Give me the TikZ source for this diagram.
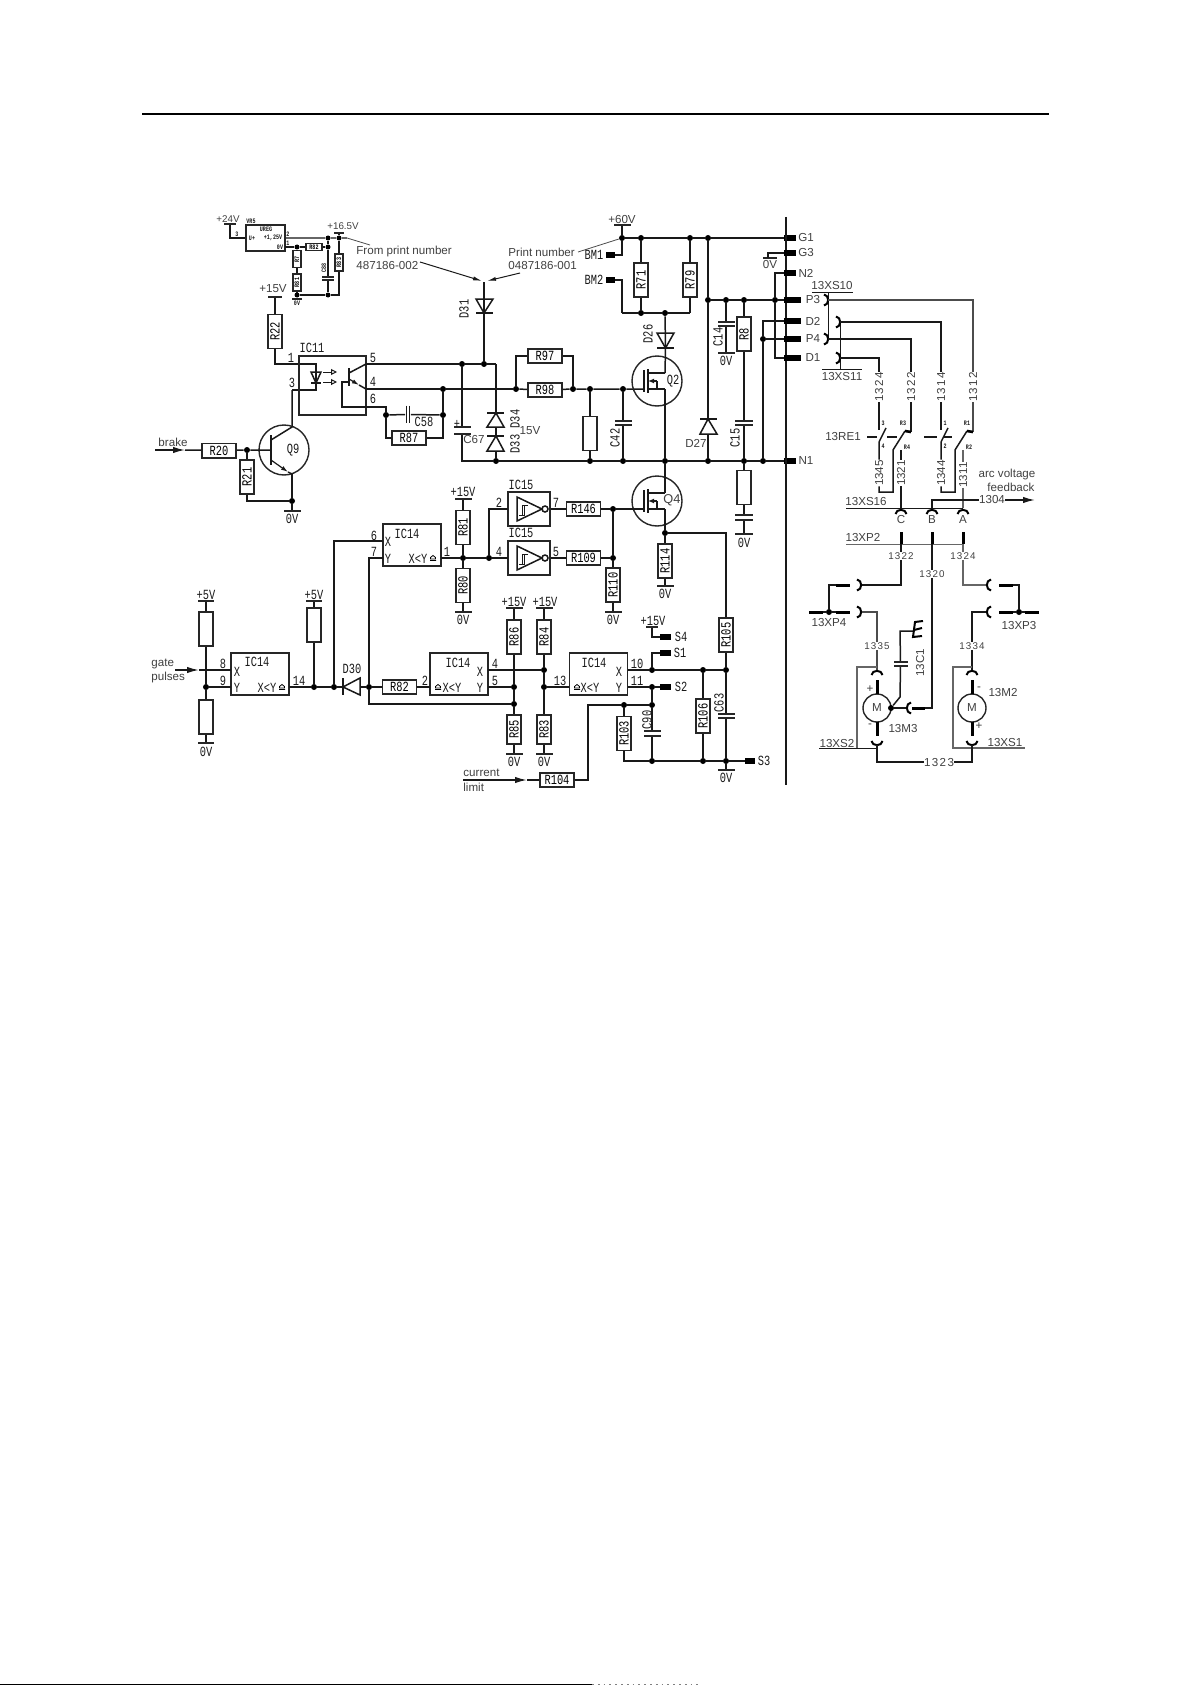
\documentclass[tikz,border=0pt]{standalone}
\usepackage{fontspec}
\usetikzlibrary{arrows.meta}
\setmainfont{Liberation Sans}
\newfontfamily\dinf[FakeStretch=0.74]{Liberation Mono}
\newfontfamily\spcd[LetterSpace=12]{Liberation Sans}
\tikzset{
  sock/.pic={\draw[line width=1pt] (-3,-5.5) .. controls (2.5,-5) and (2.5,5) .. (-3,5.5);},
  ocsym/.pic={\draw[line width=.4pt] (-3,2.5) -- (3,2.5) (-2.5,1) -- (-2.5,-.5) -- (0,-2.5) -- (2.5,-.5) -- (2.5,1) -- cycle;},
  mosfet/.pic={
    \draw (-13,-11) -- (-13,11);
    \draw (-9,-12) -- (-9,12);
    \draw (-9,-8) -- (8,-8);
    \draw (-9,8) -- (8,8);
    \draw (0,8) -- (0,0);
    \draw[-{Latex[length=3pt,width=2.5pt]}] (0,0) -- (-9,0);
  },
  schmitt/.pic={
    \draw (0,-12) -- (25,0) -- (0,12) -- cycle;
    \draw (28,0) circle (3);
    \draw[line width=.5pt] (2,6) -- (7,6) -- (7,-4) (11,-4) -- (5,-4) -- (5,6);
  }
}
\begin{document}
\begin{tikzpicture}
  [x=.5pt,y=-.5pt]
  \tikzstyle{wire_style} = [draw=black!90, line width=.75pt]
  \tikzstyle{thin_style} = [draw=black!70, line width=.4pt]
  \tikzstyle{res_h} = [draw=black!85, line width=.8pt, inner sep=0, minimum width=17pt, minimum height=7.2pt, font=\dinf\fontsize{7}{8}\selectfont]
  \tikzstyle{res_v} = [res_h, rotate=90]
  \tikzstyle{res_s} = [res_h, rotate=90, minimum width=8.4pt, minimum height=4pt, font=\dinf\bfseries\fontsize{3.4}{4}\selectfont]
  \tikzstyle{ic_box} = [draw=black!85, line width=.8pt, inner sep=0, minimum width=29pt, minimum height=21pt]
  \tikzstyle{jdot} = [circle, fill=black, inner sep=0, minimum size=3pt]
  \tikzstyle{txt_d} = [inner sep=0, text=black!90, font=\dinf\fontsize{7}{8}\selectfont]
  \tikzstyle{txt_r} = [txt_d, rotate=90]
  \tikzstyle{txt_t} = [inner sep=0, text=black!90, font=\dinf\bfseries\fontsize{3.4}{4}\selectfont]
  \tikzstyle{txt_a} = [inner sep=0, text=black!75, font=\fontsize{5.8}{7}\selectfont]
  \tikzstyle{txt_l} = [txt_a, anchor=west]
  \tikzstyle{txt_s} = [inner sep=0, text=black!75, font=\spcd\fontsize{5.8}{7}\selectfont]
  \tikzstyle{txt_v} = [txt_s, rotate=90]
  \tikzstyle{bar_node} = [fill=black!85, inner sep=0, minimum width=8.5pt, minimum height=.7pt]
  \tikzstyle{pad_s} = [fill=black, inner sep=0, minimum width=6pt, minimum height=3pt]
  \tikzstyle{pad_l} = [fill=black, inner sep=0, minimum width=8.5pt, minimum height=3pt]
  \tikzstyle{stub_h} = [fill=black, inner sep=0, minimum width=7pt, minimum height=1.5pt]
  \tikzstyle{stub_v} = [fill=black, inner sep=0, minimum width=1.5pt, minimum height=7pt]
  \tikzstyle{arrow_style} = [wire_style, -{Latex[length=6pt,width=3.2pt]}]
  \tikzstyle{note_arrow} = [wire_style, line width=.5pt, -{Latex[length=4.5pt,width=2pt]}]
  \tikzstyle{tiny_arrow} = [wire_style, line width=.6pt, -{Latex[length=3.5pt,width=2.2pt]}]
  \tikzstyle{open_arrow} = [wire_style, line width=.5pt, -{Triangle[open,length=3pt,width=3pt]}]
  \useasboundingbox (0,0) rectangle (1191,1685);
  \coordinate (rule_a) at (142,114);
  \coordinate (rule_b) at (1049,114);
  \coordinate (foot_a) at (0,1684.5);
  \coordinate (foot_b) at (592,1684.5);
  \coordinate (foot_c) at (700,1684.5);
  \draw[line width=1pt] (rule_a) -- (rule_b);
  \draw[line width=.9pt] (foot_a) -- (foot_b);
  \draw[line width=.9pt, black!50, dotted] (foot_b) -- (foot_c);

  % regulator corner
  \node[txt_a, font=\fontsize{4.9}{6}\selectfont] (t24) at (228,219) {+24V};
  \node[bar_node, minimum width=6pt] (b24) at (230,224) {};
  \coordinate (c24) at (230,238);
  \node[draw=black!85, line width=.6pt, inner sep=0, minimum width=19.5pt, minimum height=13pt] (vr5) at (265.5,238) {};
  \node[txt_t] (tvr5) at (251,221) {VR5};
  \node[txt_t] (tureg) at (266,229.5) {UREG};
  \node[txt_t] (tup) at (252,238) {U+};
  \node[txt_t] (tadj) at (273,238) {+1,25V};
  \node[txt_t] (t0vr) at (280,247) {0V};
  \node[txt_t] (tvr3) at (237,234) {3};
  \node[txt_t] (tvr2) at (288,234) {2};
  \node[txt_t] (tvr1) at (288,243) {1};
  \draw[wire_style] (b24) -- (c24) -- (vr5);
  \coordinate (vr5o) at (285,247);
  \node[jdot, minimum size=2.5pt] (ja) at (297,247) {};
  \node[res_h, minimum width=8.2pt, minimum height=3.6pt, font=\dinf\bfseries\fontsize{3.4}{4}\selectfont] (r82a) at (314,247) {R82};
  \node[jdot, minimum size=2.5pt] (jb) at (328,247) {};
  \node[jdot, minimum size=2.5pt] (jc) at (328,238) {};
  \node[jdot, minimum size=2.5pt] (jd) at (339,238) {};
  \node[jdot, minimum size=2.5pt] (je) at (297,295) {};
  \node[jdot, minimum size=2.5pt] (jf) at (328,295) {};
  \coordinate (cg) at (339,295);
  \coordinate (p16) at (347,238);
  \coordinate (p16b) at (370,245);
  \node[res_s] (r7) at (297,259) {R7};
  \node[res_s] (r81a) at (297,282.5) {R81};
  \node[res_s] (r83a) at (339,262.5) {R83};
  \node[txt_a, font=\fontsize{4.9}{6}\selectfont] (t165) at (343,226) {+16.5V};
  \node[bar_node, minimum width=5pt] (b165) at (339,233) {};
  \node[bar_node, minimum width=5pt] (b0a) at (297,299) {};
  \node[txt_t] (t0a) at (297,303.5) {0V};
  \node[txt_t, rotate=90] (tc88) at (324,268) {C88};
  \node[bar_node, minimum width=5.6pt] (c88a) at (328,277) {};
  \node[bar_node, minimum width=5.6pt] (c88b) at (328,280) {};
  \draw[wire_style, line width=.9pt, draw=black!60] (vr5) -- (jc) -- (jd) -- (p16);
  \draw[thin_style] (p16) -- (p16b);
  \draw[wire_style] (vr5o) -- (ja) -- (r82a) -- (jb) -- (jc);
  \draw[wire_style] (ja) -- (r7) -- (r81a) -- (je) -- (b0a);
  \draw[wire_style] (jb) -- (c88a);
  \draw[wire_style] (c88b) -- (jf);
  \draw[wire_style] (je) -- (jf) -- (cg) -- (r83a) -- (jd) -- (b165);

  % optocoupler
  \node[txt_a] (t15a) at (273,289) {+15V};
  \node[bar_node, minimum width=7pt] (b15a) at (275,297) {};
  \node[res_v] (r22) at (275,331.5) {R22};
  \coordinate (c22) at (275,364);
  \coordinate (led_a) at (316,364);
  \coordinate (led_k) at (316,383);
  \coordinate (led_b) at (316,390);
  \coordinate (c3) at (292,390);
  \draw[wire_style] (b15a) -- (r22) -- (c22) -- (led_a) -- (led_k) -- (led_b) -- (c3);
  \node[draw=black!85, line width=.8pt, inner sep=0, minimum width=33.5pt, minimum height=29.5pt] (ic11) at (332.5,385.5) {};
  \node[txt_d] (tic11) at (312,348) {IC11};
  \node[txt_d] (tp1) at (291,358) {1};
  \node[txt_d] (tp3) at (292,383) {3};
  \node[txt_d] (tp5) at (373,358) {5};
  \node[txt_d] (tp4) at (373,382) {4};
  \node[txt_d] (tp6) at (373,399) {6};
  \coordinate (la) at (311,372);
  \coordinate (lb) at (321,372);
  \coordinate (lc) at (311,383);
  \coordinate (ld) at (321,383);
  \draw[wire_style] (la) -- (lb) -- (led_k) -- cycle;
  \draw[wire_style] (lc) -- (ld);
  \coordinate (ra1) at (323,372);
  \coordinate (ra2) at (337,372);
  \coordinate (ra3) at (323,382);
  \coordinate (ra4) at (337,382);
  \draw[open_arrow] (ra1) -- (ra2);
  \draw[open_arrow] (ra3) -- (ra4);
  \coordinate (bb1) at (349,368);
  \coordinate (bb2) at (349,386);
  \coordinate (bc) at (349,373);
  \coordinate (be) at (349,379);
  \coordinate (bb) at (349,382);
  \coordinate (c5) at (366,364);
  \coordinate (c4) at (366,389);
  \coordinate (bem) at (359,385);
  \coordinate (cb1) at (342,382);
  \coordinate (cb2) at (342,407);
  \coordinate (cb3) at (386,407);
  \draw[wire_style] (bb1) -- (bb2);
  \draw[wire_style] (bc) -- (c5);
  \draw[tiny_arrow] (be) -- (bem);
  \draw[wire_style] (bem) -- (c4);
  \node[jdot] (j58a) at (386,415) {};
  \draw[wire_style] (bb) -- (cb1) -- (cb2) -- (cb3) -- (j58a);
  \node[jdot] (j5a) at (462,364) {};
  \node[jdot] (j5b) at (484,364) {};
  \coordinate (c5c) at (496,364);
  \node[jdot] (j4a) at (443,389) {};
  \node[jdot] (j4b) at (516,389) {};
  \node[jdot] (j58b) at (443,415) {};
  \node[draw=none, inner sep=0, minimum width=1pt, minimum height=8.5pt] (c58a) at (406.5,414.5) {};
  \node[draw=none, inner sep=0, minimum width=1pt, minimum height=8.5pt] (c58b) at (409.5,414.5) {};
  \draw[wire_style] (c58a.north) -- (c58a.south);
  \draw[wire_style] (c58b.north) -- (c58b.south);
  \node[txt_d] (tc58) at (424,422) {C58};
  \node[res_h] (r87) at (409,438) {R87};
  \coordinate (c87a) at (386,438);
  \coordinate (c87b) at (443,438);
  \draw[wire_style] (j58a) -- (c58a);
  \draw[wire_style] (c58b) -- (j58b);
  \draw[wire_style] (j58a) -- (c87a) -- (r87) -- (c87b) -- (j58b) -- (j4a);
  \draw[wire_style] (c5) -- (j5a) -- (j5b) -- (c5c);
  \draw[wire_style] (c4) -- (j4a) -- (j4b);
  % input transistor
  \node[draw=black!85, line width=.7pt, circle, inner sep=0, minimum size=25pt] (q9) at (284,450) {};
  \node[txt_d] (tq9) at (293,450) {Q9};
  \coordinate (qb1) at (271,435);
  \coordinate (qb2) at (271,465);
  \coordinate (qb) at (271,450);
  \coordinate (qc) at (271,440);
  \coordinate (qe) at (271,460);
  \coordinate (qcc) at (292,427);
  \coordinate (qem) at (288,472);
  \coordinate (qee) at (292,474);
  \draw[wire_style] (qb1) -- (qb2);
  \draw[wire_style] (qc) -- (qcc) -- (c3);
  \draw[tiny_arrow] (qe) -- (qem);
  \draw[wire_style] (qem) -- (qee);
  \node[txt_a] (tbrake) at (173,442) {brake};
  \coordinate (in_b) at (155,450);
  \coordinate (in_bh) at (185,450);
  \draw[arrow_style] (in_b) -- (in_bh);
  \node[res_h] (r20) at (219,450.5) {R20};
  \node[jdot] (j20) at (247,450) {};
  \node[res_v] (r21) at (247,477) {R21};
  \coordinate (c21) at (247,501);
  \node[jdot] (j21) at (292,501) {};
  \node[bar_node] (b0q) at (292,511) {};
  \node[txt_d] (t0q) at (292,519) {0V};
  \draw[wire_style] (in_bh) -- (r20) -- (j20) -- (qb);
  \draw[wire_style] (j20) -- (r21) -- (c21) -- (j21) -- (b0q);
  \draw[wire_style] (qee) -- (j21);

  % print notes
  \node[txt_l] (tfrom) at (356,252) {From print number};
  \node[txt_l] (tfrom2) at (356,266) {487186-002};
  \node[txt_l] (tprint) at (508,252) {Print number};
  \node[txt_l] (tprint2) at (508,266) {0487186-001};
  \coordinate (fa) at (420,262);
  \coordinate (fb) at (482,281);
  \coordinate (fc) at (520,273);
  \coordinate (fd) at (487,281);
  \coordinate (fe) at (578,252);
  \draw[note_arrow] (fa) -- (fb);
  \draw[note_arrow] (fc) -- (fd);

  % D31 and zeners
  \coordinate (d31t) at (484,282);
  \coordinate (d31a) at (484,313);
  \coordinate (d31l) at (476,299);
  \coordinate (d31r) at (493,299);
  \coordinate (d31p) at (476,313);
  \coordinate (d31q) at (493,313);
  \draw[wire_style] (d31l) -- (d31r) -- (d31a) -- cycle;
  \draw[wire_style] (d31p) -- (d31q);
  \draw[wire_style] (d31t) -- (d31a) -- (j5b);
  \node[txt_r] (td31) at (464,309) {D31};
  \coordinate (d34t) at (496,413);
  \coordinate (d34l) at (487,427);
  \coordinate (d34r) at (504,427);
  \coordinate (d34p) at (487,413);
  \coordinate (d34q) at (504,413);
  \coordinate (d33t) at (496,436);
  \coordinate (d33l) at (487,451);
  \coordinate (d33r) at (504,451);
  \coordinate (d33p) at (487,436);
  \coordinate (d33q) at (504,436);
  \draw[wire_style] (d34l) -- (d34r) -- (d34t) -- cycle;
  \draw[wire_style] (d34p) -- (d34q);
  \draw[wire_style] (d33l) -- (d33r) -- (d33t) -- cycle;
  \draw[wire_style] (d33p) -- (d33q);
  \node[txt_r] (td34) at (515,419) {D34};
  \node[txt_r] (td33) at (515,444) {D33};
  \node[txt_a] (t15v) at (530,431) {15V};
  % C67
  \node[bar_node] (c67a) at (462,427) {};
  \node[bar_node] (c67b) at (462,434) {};
  \node[txt_d] (tcp) at (457,424) {+};
  \node[txt_a] (tc67) at (474,440) {C67};
  \coordinate (c67c) at (462,461);
  \node[jdot] (j0a) at (496,461) {};
  \node[jdot] (j0b) at (590,461) {};
  \node[jdot] (j0c) at (623,461) {};
  \node[jdot] (j0d) at (665,461) {};
  \node[jdot] (j0e) at (708,461) {};
  \node[jdot] (j0f) at (744,461) {};
  \node[jdot] (j0g) at (763,461) {};
  \node[pad_s] (n1) at (790,461) {};
  \node[txt_a] (tn1) at (806,461) {N1};
  \draw[wire_style] (j5a) -- (c67a);
  \draw[wire_style] (c67b) -- (c67c) -- (j0a) -- (j0b) -- (j0c) -- (j0d) -- (j0e) -- (j0f) -- (j0g) -- (n1);
  \draw[wire_style] (c5c) -- (d34t);
  \draw[wire_style] (d34l -| d34t) -- (d33t);
  \draw[wire_style] (d33l -| d33t) -- (j0a);

  % R97 R98
  \node[res_h] (r97) at (545,356) {R97};
  \node[res_h] (r98) at (545,390) {R98};
  \coordinate (c97a) at (516,356);
  \coordinate (c97b) at (573,356);
  \node[jdot] (j98) at (573,389) {};
  \node[jdot] (j98b) at (590,389) {};
  \node[jdot] (j98c) at (623,389) {};
  \coordinate (q2g) at (644,389);
  \draw[wire_style] (j4b) -- (c97a) -- (r97) -- (c97b) -- (j98);
  \draw[wire_style] (j4b) -- (r98) -- (j98) -- (j98b) -- (j98c) -- (q2g);
  \node[res_v] (r99) at (590,433.5) {};
  \draw[wire_style] (j98b) -- (r99) -- (j0b);
  \node[bar_node] (c42a) at (623,421) {};
  \node[bar_node] (c42b) at (623,425) {};
  \node[txt_r] (tc42) at (615,438) {C42};
  \draw[wire_style] (j98c) -- (c42a);
  \draw[wire_style] (c42b) -- (j0c);

  % Q2 and Q4
  \node[draw=black!85, line width=.7pt, circle, inner sep=0, minimum size=25pt] (q2) at (657,381) {};
  \node[txt_d] (tq2) at (673,381) {Q2};
  \pic[wire_style] at (657,381) {mosfet};
  \node[draw=black!85, line width=.7pt, circle, inner sep=0, minimum size=25pt] (q4) at (657,501) {};
  \node[txt_a, font=\fontsize{6.4}{7}\selectfont] (tq4) at (672,500) {Q4};
  \pic[wire_style] at (657,501) {mosfet};
  \coordinate (q2d) at (665,373);
  \coordinate (q2s) at (665,389);
  \coordinate (q4d) at (665,493);
  \coordinate (q4s) at (665,509);
  \coordinate (q4g) at (644,509);
  \draw[wire_style] (q2s) -- (j0d) -- (q4d);

  % +60V rail
  \node[txt_a] (t60) at (622,220) {+60V};
  \node[bar_node] (b60) at (622,225) {};
  \node[jdot] (j60) at (622,238) {};
  \node[jdot] (j71) at (641,238) {};
  \node[jdot] (j79) at (690,238) {};
  \node[jdot] (j27) at (708,238) {};
  \node[pad_s] (g1) at (790,238) {};
  \node[txt_a] (tg1) at (806,238) {G1};
  \draw[wire_style] (b60) -- (j60) -- (j71) -- (j79) -- (j27) -- (g1);
  \draw[thin_style] (fe) -- (j60);
  \node[pad_s, minimum width=4.5pt] (bm1) at (610.5,255) {};
  \node[pad_s, minimum width=4.5pt] (bm2) at (610.5,280) {};
  \node[txt_d] (tbm1) at (594,255) {BM1};
  \node[txt_d] (tbm2) at (594,280) {BM2};
  \coordinate (c1m) at (622,255);
  \coordinate (c2m) at (622,280);
  \coordinate (c2n) at (622,313);
  \draw[wire_style] (j60) -- (c1m) -- (bm1);
  \draw[wire_style] (bm2) -- (c2m) -- (c2n);
  \node[res_v] (r71) at (641,280) {R71};
  \node[res_v] (r79) at (690,280) {R79};
  \node[jdot] (j71b) at (641,313) {};
  \node[jdot] (j26) at (665,313) {};
  \coordinate (c79) at (690,313);
  \draw[wire_style] (j71) -- (r71) -- (j71b);
  \draw[wire_style] (j79) -- (r79) -- (c79);
  \draw[wire_style] (c2n) -- (j71b) -- (j26) -- (c79);
  % D26
  \coordinate (d26l) at (657,333);
  \coordinate (d26r) at (674,333);
  \coordinate (d26a) at (665.5,348);
  \coordinate (d26p) at (657,348);
  \coordinate (d26q) at (674,348);
  \draw[wire_style] (d26l) -- (d26r) -- (d26a) -- cycle;
  \draw[wire_style] (d26p) -- (d26q);
  \draw[wire_style] (j26) -- (d26a) -- (q2d);
  \node[txt_r] (td26) at (648,334) {D26};
  % D27
  \coordinate (d27p) at (700,419);
  \coordinate (d27q) at (717,419);
  \coordinate (d27a) at (708,419);
  \coordinate (d27l) at (700,434);
  \coordinate (d27r) at (717,434);
  \draw[wire_style] (d27l) -- (d27r) -- (d27a) -- cycle;
  \draw[wire_style] (d27p) -- (d27q);
  \node[txt_a] (td27) at (696,443) {D27};
  \node[jdot] (j27b) at (708,300) {};
  \draw[wire_style] (j27) -- (j27b) -- (d27a);
  \draw[wire_style] (d27l -| d27a) -- (j0e);

  % connector bus
  \coordinate (bus_t) at (786,217);
  \coordinate (bus_b) at (786,785);
  \draw[line width=1.1pt, black!90] (bus_t) -- (bus_b);
  \node[pad_s] (g3) at (790,253) {};
  \node[txt_a] (tg3) at (806,253) {G3};
  \coordinate (cg3) at (768,253);
  \node[bar_node, minimum width=7pt] (b0g) at (770,258) {};
  \node[txt_a] (t0g) at (770,265) {0V};
  \draw[wire_style] (g3) -- (cg3) -- (cg3 |- b0g);
  \node[pad_s] (n2) at (790,273) {};
  \node[txt_a] (tn2) at (806,273) {N2};
  \coordinate (cn2) at (775,273);
  \node[pad_l] (p3) at (792.5,300) {};
  \node[txt_a] (tp3b) at (813,300) {P3};
  \node[pad_l] (d2) at (792.5,321) {};
  \node[txt_a] (td2) at (813,321) {D2};
  \node[pad_l] (p4) at (792.5,339) {};
  \node[txt_a] (tp4b) at (813,339) {P4};
  \node[pad_l] (d1) at (792.5,358) {};
  \node[txt_a] (td1) at (813,358) {D1};
  \node[jdot] (j726) at (726,300) {};
  \node[jdot] (j744) at (744,300) {};
  \node[jdot] (j775) at (775,300) {};
  \coordinate (cd1) at (775,358);
  \coordinate (cd2) at (763,321);
  \node[jdot] (j763) at (763,339) {};
  \draw[wire_style] (j27b) -- (j726) -- (j744) -- (j775) -- (p3);
  \draw[wire_style] (n2) -- (cn2) -- (j775) -- (cd1) -- (d1);
  \draw[wire_style] (d2) -- (cd2) -- (j763) -- (j0g);
  \draw[wire_style] (j763) -- (p4);
  % C14 R8 C15
  \node[bar_node] (c14a) at (726,322) {};
  \node[bar_node] (c14b) at (726,326) {};
  \node[txt_r] (tc14) at (718,337) {C14};
  \node[bar_node] (b0c) at (726,353) {};
  \node[txt_d] (t0c) at (726,361) {0V};
  \draw[wire_style] (j726) -- (c14a);
  \draw[wire_style] (c14b) -- (b0c);
  \node[res_v] (r8) at (744,334) {R8};
  \node[bar_node, minimum width=9pt] (c15a) at (744,421) {};
  \node[bar_node, minimum width=9pt] (c15b) at (744,425) {};
  \node[txt_r] (tc15) at (735,438) {C15};
  \draw[wire_style] (j744) -- (r8) -- (c15a);
  \draw[wire_style] (c15b) -- (j0f);
  \node[res_v] (r100) at (744,487.5) {};
  \node[bar_node, minimum width=9pt] (c16a) at (744,515) {};
  \node[bar_node, minimum width=9pt] (c16b) at (744,520) {};
  \node[bar_node, minimum width=9pt] (b0d) at (744,534) {};
  \node[txt_d] (t0d) at (744,543) {0V};
  \draw[wire_style] (j0f) -- (r100) -- (c16a);
  \draw[wire_style] (c16b) -- (b0d);

  % IC15 pair
  \node[draw=black!85, line width=.8pt, inner sep=0, minimum width=21pt, minimum height=17pt] (ic15a) at (529,509) {};
  \node[draw=black!85, line width=.8pt, inner sep=0, minimum width=21pt, minimum height=17pt] (ic15b) at (529,558) {};
  \pic[wire_style] at (517,509) {schmitt};
  \pic[wire_style] at (517,558) {schmitt};
  \node[txt_d] (tic15a) at (521,485) {IC15};
  \node[txt_d] (tic15b) at (521,533) {IC15};
  \node[txt_d] (tq2p) at (499,503) {2};
  \node[txt_d] (tq4p) at (499,552) {4};
  \node[txt_d] (tq7p) at (556,503) {7};
  \node[txt_d] (tq5p) at (556,552) {5};
  \node[res_h] (r146) at (583.5,509) {R146};
  \node[res_h] (r109) at (583.5,558) {R109};
  \node[jdot] (j146) at (613,509) {};
  \node[jdot] (j109) at (613,558) {};
  \draw[wire_style] (ic15a) -- (r146) -- (j146) -- (q4g);
  \draw[wire_style] (ic15b) -- (r109) -- (j109) -- (j146);
  \node[res_v] (r110) at (613,585) {R110};
  \node[bar_node] (b0e) at (613,612) {};
  \node[txt_d] (t0e) at (613,620) {0V};
  \draw[wire_style] (j109) -- (r110) -- (b0e);
  \node[jdot] (j114) at (665,533) {};
  \node[res_v] (r114) at (665,561) {R114};
  \node[bar_node] (b0f) at (665,586) {};
  \node[txt_d] (t0f) at (665,594) {0V};
  \coordinate (c105) at (726,533);
  \node[res_v] (r105) at (726,635) {R105};
  \node[jdot] (j105) at (726,670) {};
  \draw[wire_style] (q4s) -- (j114) -- (r114) -- (b0f);
  \draw[wire_style] (j114) -- (c105) -- (r105) -- (j105);

  % top IC14
  \node[ic_box] (ic14a) at (412,545) {};
  \node[txt_d] (ta14) at (407,534) {IC14};
  \node[txt_d] (tax) at (388,542) {X};
  \node[txt_d] (tay) at (388,559) {Y};
  \node[txt_d] (tayy) at (418,559) {X<Y};
  \pic at (433,558) {ocsym};
  \node[txt_d] (tap6) at (374,536) {6};
  \node[txt_d] (tap7) at (374,552) {7};
  \node[txt_d] (tap1) at (447,552) {1};
  \coordinate (a_out) at (441,558);
  \coordinate (a_x) at (383,541);
  \coordinate (a_y) at (383,558);
  \node[jdot] (j81) at (463,558) {};
  \node[jdot] (j82) at (489,558) {};
  \coordinate (ci4) at (508,558);
  \coordinate (ci2a) at (489,509);
  \coordinate (ci2) at (508,509);
  \draw[wire_style] (a_out) -- (j81) -- (j82) -- (ci4);
  \draw[wire_style] (j82) -- (ci2a) -- (ci2);
  \node[txt_d] (t15b) at (463,492) {+15V};
  \node[bar_node] (b15b) at (463,499) {};
  \node[res_v] (r81) at (463,527.5) {R81};
  \node[res_v] (r80) at (463,585.5) {R80};
  \node[bar_node] (b0h) at (463,612) {};
  \node[txt_d] (t0h) at (463,620) {0V};
  \draw[wire_style] (b15b) -- (r81) -- (j81) -- (r80) -- (b0h);

  % lower IC14 row
  \node[ic_box] (ic14b) at (260,674) {};
  \node[txt_d] (tb14) at (257,662) {IC14};
  \node[txt_d] (tbx) at (237,672) {X};
  \node[txt_d] (tby) at (237,688) {Y};
  \node[txt_d] (tbyy) at (267,688) {X<Y};
  \pic at (282,687) {ocsym};
  \node[txt_d] (tbp8) at (223,664) {8};
  \node[txt_d] (tbp9) at (223,681) {9};
  \node[txt_d] (tbp14) at (299,681) {14};
  \node[txt_l] (tgate) at (151,664) {gate};
  \node[txt_l] (tpuls) at (151,677) {pulses};
  \node[txt_d] (t5a) at (206,595) {+5V};
  \node[bar_node, minimum width=8pt] (b5a) at (206,601) {};
  \node[res_v] (r5a) at (206,629) {};
  \node[jdot] (j5g) at (206,687) {};
  \node[res_v] (r5b) at (206,717) {};
  \node[bar_node, minimum width=8pt] (b0i) at (206,743) {};
  \node[txt_d] (t0i) at (206,752) {0V};
  \coordinate (gin) at (175,670);
  \coordinate (ginh) at (199,670);
  \coordinate (b_x) at (231,670);
  \coordinate (b_y) at (231,687);
  \coordinate (b_o) at (289,687);
  \draw[arrow_style] (gin) -- (ginh);
  \draw[wire_style] (ginh) -- (b_x);
  \draw[wire_style] (b5a) -- (r5a) -- (j5g) -- (r5b) -- (b0i);
  \draw[wire_style] (j5g) -- (b_y);
  \node[txt_d] (t5b) at (314,595) {+5V};
  \node[bar_node, minimum width=8pt] (b5b) at (314,601) {};
  \node[res_v] (r5c) at (314,625) {};
  \node[jdot] (j5h) at (314,687) {};
  \node[jdot] (j5i) at (334,687) {};
  \coordinate (d30k) at (343,687);
  \coordinate (d30a) at (360,687);
  \coordinate (d30p) at (343,678);
  \coordinate (d30q) at (343,695);
  \coordinate (d30r) at (360,678);
  \coordinate (d30s) at (360,695);
  \draw[wire_style] (d30k) -- (d30r) -- (d30s) -- cycle;
  \draw[wire_style] (d30p) -- (d30q);
  \node[txt_d] (td30) at (352,669) {D30};
  \node[jdot] (j5j) at (369,687) {};
  \node[res_h] (r82) at (399.5,687) {R82};
  \coordinate (c6) at (334,541);
  \coordinate (c7) at (369,558);
  \coordinate (c7b) at (369,704);
  \node[jdot] (j85) at (514,704) {};
  \draw[wire_style] (b5b) -- (r5c) -- (j5h);
  \draw[wire_style] (b_o) -- (j5h) -- (j5i) -- (d30k);
  \draw[wire_style] (j5i) -- (c6) -- (a_x);
  \draw[wire_style] (a_y) -- (c7) -- (j5j) -- (c7b) -- (j85);
  \draw[wire_style] (d30a) -- (j5j) -- (r82);
  % middle IC14
  \node[ic_box] (ic14c) at (459,674) {};
  \node[txt_d] (tc14a) at (458,663) {IC14};
  \node[txt_d] (tcx) at (480,672) {X};
  \node[txt_d] (tcy) at (480,688) {Y};
  \node[txt_d] (tcyy) at (452,688) {X<Y};
  \pic at (438,687) {ocsym};
  \node[txt_d] (tcp4) at (495,664) {4};
  \node[txt_d] (tcp5) at (495,681) {5};
  \node[txt_d] (tcp2) at (425,681) {2};
  \coordinate (c_in) at (430,687);
  \coordinate (c_x) at (488,670);
  \coordinate (c_y) at (488,687);
  \draw[wire_style] (r82) -- (c_in);
  \node[txt_d] (t15c) at (514,602) {+15V};
  \node[bar_node] (b15c) at (514,608) {};
  \node[res_v] (r86) at (514,637) {R86};
  \node[jdot] (j86) at (514,687) {};
  \node[res_v, minimum width=14.5pt] (r85) at (514,729.5) {R85};
  \node[bar_node] (b0j) at (514,754) {};
  \node[txt_d] (t0j) at (514,762) {0V};
  \node[txt_d] (t15d) at (545,602) {+15V};
  \node[bar_node] (b15d) at (544,608) {};
  \node[res_v] (r84) at (544,637) {R84};
  \node[jdot] (j84) at (544,670) {};
  \node[jdot] (j83) at (544,687) {};
  \node[res_v, minimum width=14.5pt] (r83) at (544,729.5) {R83};
  \node[bar_node] (b0k) at (544,754) {};
  \node[txt_d] (t0k) at (544,762) {0V};
  \draw[wire_style] (b15c) -- (r86) -- (j86) -- (j85) -- (r85) -- (b0j);
  \draw[wire_style] (b15d) -- (r84) -- (j84) -- (j83) -- (r83) -- (b0k);
  \draw[wire_style] (c_x) -- (j84);
  \draw[wire_style] (c_y) -- (j86);
  % right IC14
  \node[ic_box] (ic14d) at (598.5,674) {};
  \node[txt_d] (td14) at (594,663) {IC14};
  \node[txt_d] (tdx) at (619,672) {X};
  \node[txt_d] (tdy) at (619,688) {Y};
  \node[txt_d] (tdyy) at (590,688) {X<Y};
  \pic at (577,687) {ocsym};
  \node[txt_d] (tdp13) at (560,681) {13};
  \node[txt_d] (tdp10) at (637,664) {10};
  \node[txt_d] (tdp11) at (637,681) {11};
  \coordinate (d_in) at (569,687);
  \coordinate (d_x) at (628,670);
  \coordinate (d_y) at (628,687);
  \draw[wire_style] (j83) -- (d_in);
  \node[txt_d] (t15e) at (653,621) {+15V};
  \node[bar_node, minimum width=6pt] (b15e) at (652,627) {};
  \coordinate (cs4) at (652,637);
  \node[pad_s, minimum width=5.5pt] (s4) at (665.5,637) {};
  \node[txt_d] (ts4) at (681,637) {S4};
  \draw[wire_style] (b15e) -- (cs4) -- (s4);
  \node[pad_s, minimum width=5.5pt] (s1) at (665.5,653) {};
  \node[txt_d] (ts1) at (680,653) {S1};
  \coordinate (cs1) at (652,653);
  \node[jdot] (j10) at (652,670) {};
  \node[jdot] (j106) at (703,670) {};
  \draw[wire_style] (s1) -- (cs1) -- (j10);
  \draw[wire_style] (d_x) -- (j10) -- (j106) -- (j105);
  \node[pad_s, minimum width=5.5pt] (s2) at (665.5,687) {};
  \node[txt_d] (ts2) at (681,686.5) {S2};
  \node[jdot] (j11) at (652,687) {};
  \node[jdot] (j90) at (652,705) {};
  \node[jdot] (j103) at (624,705) {};
  \coordinate (c104a) at (588,705);
  \coordinate (c104b) at (588,780);
  \node[res_h] (r104) at (557,780) {R104};
  \node[txt_l] (tcur) at (463,773) {current};
  \node[txt_l] (tlim) at (463,787) {limit};
  \coordinate (cin) at (463,780);
  \coordinate (cinh) at (527,780);
  \draw[arrow_style] (cin) -- (cinh);
  \draw[wire_style] (cinh) -- (r104) -- (c104b) -- (c104a) -- (j103) -- (j90);
  \draw[wire_style] (d_y) -- (j11) -- (s2);
  \node[res_v] (r103) at (624,733.5) {R103};
  \node[bar_node] (c90a) at (652,731) {};
  \node[bar_node] (c90b) at (652,736) {};
  \node[txt_r] (tc90) at (647,720) {C90};
  \node[jdot] (j0m) at (652,761) {};
  \node[jdot] (j0n) at (703,761) {};
  \node[jdot] (j0o) at (726,761) {};
  \coordinate (c103) at (624,761);
  \node[pad_s, minimum width=5pt] (s3) at (750,761) {};
  \node[txt_d] (ts3) at (764,761) {S3};
  \node[bar_node] (b0s) at (726,770) {};
  \node[txt_d] (t0s) at (726,778) {0V};
  \draw[wire_style] (j11) -- (j90) -- (c90a);
  \draw[wire_style] (c90b) -- (j0m);
  \draw[wire_style] (j103) -- (r103) -- (c103) -- (j0m) -- (j0n) -- (j0o) -- (s3);
  \draw[wire_style] (j0o) -- (b0s);
  \node[res_v] (r106) at (703,716) {R106};
  \draw[wire_style] (j106) -- (r106) -- (j0n);
  \node[bar_node] (c63a) at (726,714) {};
  \node[bar_node] (c63b) at (726,718) {};
  \node[txt_r] (tc63) at (719,703) {C63};
  \draw[wire_style] (j105) -- (c63a);
  \draw[wire_style] (c63b) -- (j0o);

  % sockets and right hand side
  \node[txt_a] (txs10) at (832,286) {13XS10};
  \coordinate (xs10a) at (812,292);
  \coordinate (xs10b) at (853,292);
  \coordinate (xs10c) at (828,292);
  \coordinate (xs10d) at (828,339);
  \draw[wire_style, line width=.5pt] (xs10a) -- (xs10b);
  \draw[wire_style, line width=.5pt] (xs10c) -- (xs10d);
  \node[txt_a] (txs11) at (842,377) {13XS11};
  \coordinate (xs11a) at (822,369);
  \coordinate (xs11b) at (862,369);
  \coordinate (xs11c) at (840,322);
  \coordinate (xs11d) at (840,369);
  \draw[wire_style, line width=.5pt] (xs11a) -- (xs11b);
  \draw[wire_style, line width=.5pt] (xs11c) -- (xs11d);
  \pic at (827,300) {sock};
  \pic at (827,339) {sock};
  \pic at (839,322) {sock};
  \pic at (839,358) {sock};
  \coordinate (w12a) at (828,300);
  \coordinate (w12b) at (973,300);
  \node[txt_v] (t1312) at (973,387) {1312};
  \coordinate (w12c) at (973,432);
  \coordinate (w14a) at (840,322);
  \coordinate (w14b) at (941,322);
  \node[txt_v] (t1314) at (941,387) {1314};
  \coordinate (w14c) at (941,430);
  \coordinate (w22a) at (828,339);
  \coordinate (w22b) at (911,339);
  \node[txt_v] (t1322) at (911,387) {1322};
  \coordinate (w22c) at (911,432);
  \coordinate (w24a) at (840,358);
  \coordinate (w24b) at (879,358);
  \node[txt_v] (t1324) at (879,387) {1324};
  \coordinate (w24c) at (879,430);
  \draw[wire_style, draw=black!70] (w12a) -- (w12b) -- (t1312) -- (w12c);
  \draw[wire_style] (w14a) -- (w14b) -- (t1314) -- (w14c);
  \draw[wire_style] (w22a) -- (w22b) -- (t1322) -- (w22c);
  \draw[wire_style] (w24a) -- (w24b) -- (t1324) -- (w24c);
  % relay contacts
  \node[txt_a] (tre1) at (843,437) {13RE1};
  \coordinate (re_a) at (867,437);
  \coordinate (re_b) at (952,437);
  \draw[wire_style, dash pattern=on 5pt off 5pt on 5pt off 13.5pt on 6.5pt off 3pt on 4.5pt off 100pt] (re_a) -- (re_b);
  \node[txt_t] (tk3) at (883,423) {3};
  \node[txt_t] (tkr3) at (903,423) {R3};
  \node[txt_t] (tk1) at (945,423) {1};
  \node[txt_t] (tkr1) at (967,423) {R1};
  \node[txt_t] (tk4) at (883,446) {4};
  \node[txt_t] (tkr4) at (907,447) {R4};
  \node[txt_t] (tk2) at (945,446) {2};
  \node[txt_t] (tkr2) at (969,447) {R2};
  \coordinate (s45a) at (879,442);
  \coordinate (s45b) at (886,428);
  \coordinate (s12a) at (941,442);
  \coordinate (s12b) at (948,428);
  \draw[wire_style] (s45a) -- (s45b);
  \draw[wire_style] (s12a) -- (s12b);
  \node[txt_a] (t1345) at (879,473) [rotate=90] {1345};
  \node[txt_a] (t1344) at (941,473) [rotate=90] {1344};
  \node[txt_a] (t1321) at (901,473) [rotate=90] {1321};
  \node[txt_a] (t1311) at (963,475) [rotate=90] {1311};
  \coordinate (a1) at (879,492);
  \coordinate (a2) at (893,492);
  \coordinate (a3) at (893,450);
  \coordinate (a4) at (905,431);
  \coordinate (a5) at (941,492);
  \coordinate (a6) at (955,492);
  \coordinate (a7) at (955,450);
  \coordinate (a8) at (967,431);
  \coordinate (a9) at (901,450);
  \coordinate (a10) at (963,450);
  \coordinate (a11) at (901,508);
  \coordinate (a12) at (963,508);
  \draw[wire_style] (s45a) -- (t1345) -- (a1) -- (a2) -- (a3) -- (a4);
  \draw[wire_style] (s12a) -- (t1344) -- (a5) -- (a6) -- (a7) -- (a8);
  \draw[line width=1.3pt] (a4) -- (w22c);
  \draw[line width=1.3pt] (a8) -- (w12c);
  \draw[wire_style] (a9) -- (t1321) -- (a11);
  \draw[wire_style, draw=black!60] (a10) -- (t1311) -- (a12);
  % 13XS16 and 13XP2
  \node[txt_a] (txs16) at (866,502) {13XS16};
  \coordinate (xs16a) at (846,508);
  \coordinate (xs16b) at (963,508);
  \draw[wire_style, line width=.5pt] (xs16a) -- (xs16b);
  \pic[rotate=90] at (901,511) {sock};
  \pic[rotate=90] at (932,511) {sock};
  \pic[rotate=90] at (963,511) {sock};
  \node[txt_a] (tcc) at (901,520) {C};
  \node[txt_a] (tbb) at (932,520) {B};
  \node[txt_a] (taa) at (963,520) {A};
  \coordinate (b1) at (932,508);
  \coordinate (b2) at (932,500);
  \node[txt_a] (t1304) at (992,500) {1304};
  \coordinate (b3) at (1035,500);
  \draw[wire_style] (b1) -- (b2) -- (t1304);
  \draw[arrow_style] (t1304) -- (b3);
  \node[txt_a] (tarc) at (1007,474) {arc voltage};
  \node[txt_a] (tfeed) at (1011,487) {feedback};
  \node[txt_a] (txp2) at (863,538) {13XP2};
  \coordinate (xp2a) at (846,544);
  \coordinate (xp2b) at (963,544);
  \draw[wire_style, line width=.5pt, draw=black!60] (xp2a) -- (xp2b);
  \node[stub_v, minimum height=6pt] (st1) at (901,538) {};
  \node[stub_v, minimum height=6pt] (st2) at (932,538) {};
  \node[stub_v, minimum height=6pt] (st3) at (963,538) {};
  % lower wiring
  \node[txt_s, font=\spcd\fontsize{4.9}{6}\selectfont] (t1322b) at (901,556) {1322};
  \node[txt_s, font=\spcd\fontsize{4.9}{6}\selectfont] (t1324b) at (963,556) {1324};
  \node[txt_s, font=\spcd\fontsize{4.9}{6}\selectfont] (t1320) at (932,574) {1320};
  \coordinate (d1c) at (901,585);
  \coordinate (d1d) at (862,585);
  \coordinate (d2c) at (963,585);
  \coordinate (d2d) at (986,585);
  \draw[wire_style] (st1) -- (t1322b) -- (d1c) -- (d1d);
  \draw[wire_style, draw=black!60] (st3) -- (t1324b) -- (d2c) -- (d2d);
  \pic at (860,585) {sock};
  \pic at (860,612) {sock};
  \pic[rotate=180] at (988,585) {sock};
  \pic[rotate=180] at (988,612) {sock};
  \node[stub_h] (st4) at (843,585) {};
  \node[stub_h] (st5) at (843,612) {};
  \node[stub_h] (st6) at (816,612) {};
  \node[stub_h] (st7) at (1006,585) {};
  \node[stub_h] (st8) at (1006,612) {};
  \node[stub_h] (st9) at (1032,612) {};
  \coordinate (e1) at (829,585);
  \node[jdot] (jxp4) at (829,612) {};
  \coordinate (e2) at (1019,585);
  \node[jdot] (jxp3) at (1019,612) {};
  \draw[wire_style] (st4) -- (e1) -- (jxp4) -- (st5);
  \draw[wire_style] (jxp4) -- (st6);
  \draw[wire_style] (st7) -- (e2) -- (jxp3) -- (st8);
  \draw[wire_style] (jxp3) -- (st9);
  \node[txt_a] (txp4) at (829,623) {13XP4};
  \node[txt_a] (txp3) at (1019,626) {13XP3};
  \coordinate (f1) at (862,612);
  \coordinate (f2) at (877,612);
  \node[txt_s, font=\spcd\fontsize{4.9}{6}\selectfont] (t1335) at (877,646) {1335};
  \coordinate (f3) at (877,671);
  \coordinate (f4) at (986,612);
  \coordinate (f5) at (972,612);
  \node[txt_s, font=\spcd\fontsize{4.9}{6}\selectfont] (t1334) at (972,646) {1334};
  \coordinate (f6) at (972,671);
  \draw[wire_style, draw=black!70] (f1) -- (f2) -- (t1335) -- (f3);
  \draw[wire_style] (f4) -- (f5) -- (t1334) -- (f6);
  % motors
  \node[draw=black!85, line width=.7pt, circle, inner sep=0, minimum size=14pt, txt_a, draw=black!85] (m3) at (877,708) {M};
  \node[draw=black!85, line width=.7pt, circle, inner sep=0, minimum size=14pt, txt_a, draw=black!85] (m2) at (972,708) {M};
  \node[stub_v] (st10) at (877,687) {};
  \node[stub_v] (st11) at (877,729) {};
  \node[stub_v] (st12) at (972,687) {};
  \node[stub_v] (st13) at (972,729) {};
  \pic[rotate=90] at (877,672) {sock};
  \pic[rotate=90] at (972,672) {sock};
  \pic[rotate=-90] at (877,744) {sock};
  \pic[rotate=-90] at (972,744) {sock};
  \pic[rotate=180] at (908,708) {sock};
  \node[txt_a] (tpa) at (870,689) {+};
  \node[txt_a] (tma) at (870,726) {-};
  \node[txt_a] (tmb) at (979,689) {-};
  \node[txt_a] (tpb) at (979,726) {+};
  \node[txt_a] (tm3) at (903,728) {13M3};
  \node[txt_a] (tm2) at (1003,692) {13M2};
  \node[stub_h, minimum width=6.5pt] (st14) at (918.5,708) {};
  \coordinate (g1c) at (932,708);
  \node[jdot] (jm3) at (891,708) {};
  \coordinate (g2c) at (906,708);
  \draw[wire_style] (st2) -- (t1320) -- (g1c) -- (st14);
  \draw[wire_style] (jm3) -- (g2c);
  \coordinate (h1) at (900,697);
  \coordinate (h2) at (900,631);
  \coordinate (h3) at (914,631);
  \node[bar_node, minimum width=7pt] (c13a) at (900.5,662) {};
  \node[bar_node, minimum width=7pt] (c13b) at (900.5,666) {};
  \draw[wire_style] (jm3) -- (h1) -- (c13b);
  \draw[wire_style] (c13a) -- (h2) -- (h3);
  \coordinate (k1) at (915,622);
  \coordinate (k2) at (913,637);
  \coordinate (k3) at (923,621);
  \coordinate (k4) at (922,636);
  \coordinate (k5) at (914,630);
  \coordinate (k6) at (922,628);
  \draw[line width=1pt] (k3) -- (k1) -- (k2) -- (k4);
  \draw[line width=1pt] (k5) -- (k6);
  \node[txt_a, rotate=90] (t13c1) at (920,663) {13C1};
  \coordinate (n1a) at (857,667);
  \coordinate (n1b) at (877,667);
  \coordinate (n1c) at (857,748);
  \coordinate (n1d) at (819,748);
  \coordinate (n1e) at (877,748);
  \node[txt_a] (txs2) at (837,743) {13XS2};
  \draw[wire_style, draw=black!60] (n1b) -- (n1a) -- (n1c);
  \draw[wire_style, line width=.5pt] (n1d) -- (n1e);
  \coordinate (n2a) at (953,667);
  \coordinate (n2b) at (972,667);
  \coordinate (n2c) at (953,748);
  \coordinate (n2d) at (1025,748);
  \node[txt_a] (txs1) at (1005,742) {13XS1};
  \draw[wire_style, draw=black!60] (n2b) -- (n2a) -- (n2c) -- (n2d);
  \coordinate (q1) at (877,745);
  \coordinate (q3) at (877,762);
  \coordinate (q4p) at (972,762);
  \coordinate (q5) at (972,745);
  \node[txt_s] (t1323) at (939,762) {1323};
  \draw[wire_style] (q1) -- (q3) -- (t1323) -- (q4p) -- (q5);
\end{tikzpicture}
\end{document}
